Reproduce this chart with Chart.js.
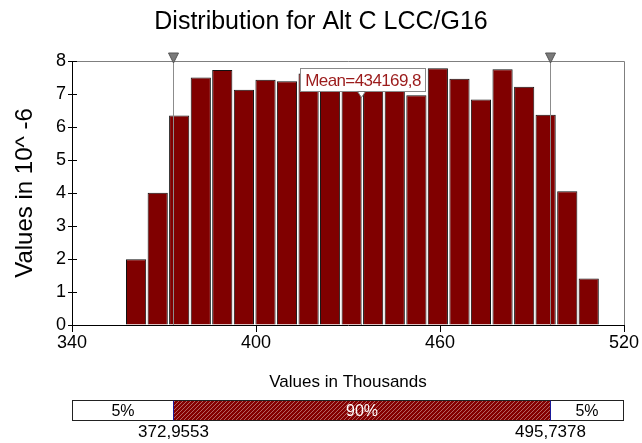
<!DOCTYPE html>
<html>
<head>
<meta charset="utf-8">
<script src="https://cdn.jsdelivr.net/npm/chart.js@4/dist/chart.umd.min.js"></script>
<style>
html,body{margin:0;padding:0;background:#fff;}
#wrap{width:642px;height:443px;position:relative;}
</style>
</head>
<body>
<div id="wrap"><canvas id="c" width="642" height="443"></canvas></div>
<script>
// ---- data ----
const chartTitle = 'Distribution for Alt C LCC/G16';
const yAxisTitle = 'Values in 10^ -6';
const xAxisTitle = 'Values in Thousands';
const binCenters = [360.9, 367.95, 374.95, 382.0, 389.0, 396.05, 403.1, 410.1, 417.15, 424.15, 431.2,
                    438.2, 445.25, 452.3, 459.3, 466.35, 473.35, 480.4, 487.45, 494.45, 501.5, 508.5];
const densities = [1.99, 4.01, 6.35, 7.50, 7.73, 7.13, 7.43, 7.39, 7.62, 7.45, 7.55,
                   7.35, 7.50, 6.96, 7.78, 7.46, 6.83, 7.75, 7.22, 6.37, 4.05, 1.41];
const xTickValues = [340, 400, 460, 520];
const yTickValues = [0, 1, 2, 3, 4, 5, 6, 7, 8];
const meanValue = 434.1698;
const meanLabel = 'Mean=434169,8';
const percentileValues = [372.9553, 495.7378];
const percentileLabels = ['372,9553', '495,7378'];
const bandLabels = ['5%', '90%', '5%'];

const FONT = '"Liberation Sans", Arial, sans-serif';

// hatch pattern
function makeHatch(ctx) {
  const p = document.createElement('canvas');
  p.width = 4; p.height = 4;
  const g = p.getContext('2d');
  g.fillStyle = '#840000';
  g.fillRect(0, 0, 4, 4);
  g.strokeStyle = 'rgba(225,190,190,0.75)';
  g.lineWidth = 0.7;
  g.beginPath();
  g.moveTo(-1, 5); g.lineTo(5, -1);
  g.moveTo(-1, 1); g.lineTo(1, -1);
  g.moveTo(3, 5); g.lineTo(5, 3);
  g.stroke();
  return ctx.createPattern(p, 'repeat');
}

const overlay = {
  id: 'overlay',
  afterDatasetsDraw(chart) {
    const ctx = chart.ctx;
    const xs = chart.scales.x, ys = chart.scales.y;
    const a = chart.chartArea;
    ctx.save();
    // plot frame top/right
    ctx.strokeStyle = '#7f7f7f';
    ctx.lineWidth = 1;
    ctx.beginPath();
    ctx.moveTo(a.left, a.top + 0.5); ctx.lineTo(a.right + 0.5, a.top + 0.5);
    ctx.lineTo(a.right + 0.5, a.bottom);
    ctx.stroke();
    // inner y ticks
    ctx.strokeStyle = '#000';
    ctx.beginPath();
    yTickValues.forEach(v => {
      const y = Math.round(ys.getPixelForValue(v)) + 0.5;
      ctx.moveTo(a.left, y); ctx.lineTo(a.left + 5, y);
    });
    ctx.stroke();
    // percentile lines
    percentileValues.forEach(v => {
      const x = Math.round(xs.getPixelForValue(v)) + 0.5;
      ctx.strokeStyle = '#8c8c8c';
      ctx.beginPath();
      ctx.moveTo(x, a.top - 8); ctx.lineTo(x, a.bottom);
      ctx.stroke();
      ctx.fillStyle = '#7a7a7a';
      ctx.strokeStyle = '#555';
      ctx.beginPath();
      ctx.moveTo(x - 5, a.top - 8); ctx.lineTo(x + 5, a.top - 8); ctx.lineTo(x, a.top + 2);
      ctx.closePath(); ctx.fill(); ctx.stroke();
    });
    // mean line + label
    const mx = Math.round(xs.getPixelForValue(meanValue)) + 0.5;
    ctx.strokeStyle = '#9a9a9a';
    ctx.beginPath();
    ctx.moveTo(mx, a.top + 34); ctx.lineTo(mx, a.bottom);
    ctx.stroke();
    ctx.font = '17px ' + FONT;
    try { ctx.letterSpacing = '-0.6px'; } catch (e) {}
    const bw = 125, bh = 23;
    const bx = Math.round(mx - 62) + 0.5, by = a.top + 7.5;
    ctx.fillStyle = '#fff';
    ctx.fillRect(bx, by, bw, bh);
    ctx.strokeStyle = '#8a8a8a';
    ctx.strokeRect(bx, by, bw, bh);
    ctx.fillStyle = '#9b1b1b';
    ctx.textAlign = 'center'; ctx.textBaseline = 'middle';
    ctx.fillText(meanLabel, bx + bw / 2, by + bh / 2 + 1);
    try { ctx.letterSpacing = '0px'; } catch (e) {}
    // mean marker
    ctx.fillStyle = '#fff'; ctx.strokeStyle = '#777';
    ctx.beginPath();
    ctx.moveTo(mx - 4, by + bh); ctx.lineTo(mx + 4, by + bh); ctx.lineTo(mx, by + bh + 6);
    ctx.closePath(); ctx.fill(); ctx.stroke();
    ctx.restore();
  },
  afterDraw(chart) {
    const ctx = chart.ctx;
    const xs = chart.scales.x;
    const a = chart.chartArea;
    ctx.save();
    ctx.fillStyle = '#000';
    ctx.textAlign = 'center'; ctx.textBaseline = 'middle';
    // title
    ctx.font = '25px ' + FONT;
    ctx.fillText(chartTitle, 321, 22);
    // x title
    ctx.font = '17px ' + FONT;
    ctx.fillText(xAxisTitle, (a.left + a.right) / 2, 382);
    // y title
    ctx.save();
    ctx.translate(25, (a.top + a.bottom) / 2);
    ctx.rotate(-Math.PI / 2);
    ctx.font = '24px ' + FONT;
    ctx.fillText(yAxisTitle, 0, 0);
    ctx.restore();
    // percentile band bar
    const x0 = Math.round(xs.getPixelForValue(xs.min)) + 0.5;
    const x3 = Math.round(xs.getPixelForValue(xs.max)) - 0.5;
    const x1 = Math.round(xs.getPixelForValue(percentileValues[0])) + 0.5;
    const x2 = Math.round(xs.getPixelForValue(percentileValues[1])) + 0.5;
    const top = 400.5, h = 20;
    ctx.fillStyle = '#fff';
    ctx.fillRect(x0, top, x3 - x0, h);
    ctx.fillStyle = makeHatch(ctx);
    ctx.fillRect(x1, top, x2 - x1, h);
    ctx.strokeStyle = '#222';
    ctx.lineWidth = 1;
    ctx.strokeRect(x0, top, x3 - x0, h);
    ctx.strokeStyle = '#1a1a9a';
    ctx.beginPath();
    ctx.moveTo(x1, top); ctx.lineTo(x1, top + h);
    ctx.moveTo(x2, top); ctx.lineTo(x2, top + h);
    ctx.stroke();
    ctx.font = '16px ' + FONT;
    ctx.fillStyle = '#000';
    ctx.fillText(bandLabels[0], (x0 + x1) / 2, top + h / 2 + 1);
    ctx.fillText(bandLabels[2], (x2 + x3) / 2, top + h / 2 + 1);
    ctx.fillStyle = '#fff';
    ctx.fillText(bandLabels[1], (x1 + x2) / 2, top + h / 2 + 1);
    ctx.fillStyle = '#000';
    ctx.font = '17px ' + FONT;
    ctx.fillText(percentileLabels[0], x1, 432);
    ctx.fillText(percentileLabels[1], x2, 432);
    ctx.restore();
  }
};

new Chart(document.getElementById('c'), {
  type: 'bar',
  data: {
    datasets: [{
      data: binCenters.map((x, i) => ({x: x, y: densities[i]})),
      backgroundColor: '#800000',
      borderColor: '#111111',
      borderWidth: 1,
      barPercentage: 0.94,
      categoryPercentage: 1.0
    }]
  },
  options: {
    responsive: false,
    animation: false,
    events: [],
    layout: {padding: {top: 61, right: 18, left: 0, bottom: 0}},
    plugins: {legend: {display: false}, tooltip: {enabled: false}, title: {display: false}},
    scales: {
      x: {
        type: 'linear',
        offset: false,
        min: 340, max: 520,
        afterBuildTicks: s => { s.ticks = xTickValues.map(v => ({value: v})); },
        afterFit: s => { s.height = 118; },
        ticks: {font: {family: FONT, size: 18}, color: '#000', padding: 0, maxRotation: 0, autoSkip: false},
        grid: {drawOnChartArea: false, offset: false, tickLength: 7, color: '#000'},
        border: {color: '#000', width: 1}
      },
      y: {
        min: 0, max: 8,
        afterBuildTicks: s => { s.ticks = yTickValues.map(v => ({value: v})); },
        afterFit: s => { s.width = 72; },
        ticks: {font: {family: FONT, size: 18}, color: '#000', padding: 2, autoSkip: false},
        grid: {drawOnChartArea: false, tickLength: 4, color: '#000'},
        border: {color: '#000', width: 1}
      }
    }
  },
  plugins: [overlay]
});
</script>
</body>
</html>
